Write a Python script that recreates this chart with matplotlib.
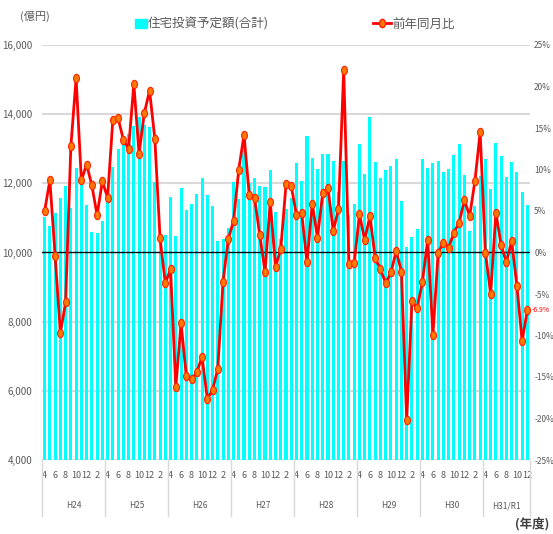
import matplotlib
matplotlib.use("Agg")
import matplotlib.pyplot as plt
import numpy as np
from matplotlib.lines import Line2D
from matplotlib.patches import Patch
from matplotlib.path import Path

plt.rcParams['font.family'] = ['Noto Sans CJK JP', 'DejaVu Sans']

# 住宅投資予定額(合計) 億円, H24.4 - R1.12
amounts = [
    11030, 10760, 11130, 11590, 11910, 11300, 12430, 12100, 11360, 10580, 10550, 10900,
    11600, 12460, 12980, 13200, 13430, 13650, 13930, 13700, 13630, 12030, 10300, 10500,
    11600, 10470, 11860, 11220, 11390, 11680, 12160, 11650, 11340, 10330, 10380, 10700,
    12030, 11540, 13300, 12000, 12140, 11930, 11880, 12380, 11160, 10380, 11250, 11570,
    12590, 12070, 13360, 12720, 12400, 12840, 12840, 12660, 11740, 12660, 11080, 11390,
    13130, 12260, 13930, 12610, 12140, 12380, 12490, 12690, 11480, 10150, 10440, 10670,
    12690, 12430, 12580, 12640, 12320, 12400, 12810, 13130, 12230, 10620, 11340, 12200,
    12690, 11830, 13180, 12780, 12170, 12610, 12320, 11740, 11370,
]
# 前年同月比 %
yoy = [
    5.0, 8.7, -0.4, -9.7, -6.0, 12.8, 21.0, 8.7, 10.6, 8.1, 4.5, 8.6,
    6.6, 16.0, 16.2, 13.6, 12.5, 20.3, 11.9, 16.8, 19.5, 13.7, 1.7, -3.7,
    -2.0, -16.2, -8.5, -14.9, -15.3, -14.4, -12.6, -17.6, -16.6, -14.0, -3.5, 1.6,
    3.8, 10.0, 14.2, 6.9, 6.6, 2.1, -2.3, 6.1, -1.7, 0.4, 8.2, 8.0,
    4.5, 4.7, -1.2, 5.9, 1.8, 7.2, 7.8, 2.6, 5.2, 22.0, -1.4, -1.3,
    4.6, 1.5, 4.4, -0.7, -2.0, -3.7, -2.4, 0.2, -2.3, -20.2, -5.9, -6.7,
    -3.5, 1.5, -9.9, 0.0, 1.2, 0.6, 2.4, 3.6, 6.3, 4.4, 8.6, 14.5,
    0.0, -5.0, 4.8, 0.9, -1.2, 1.4, -4.0, -10.7, -6.9,
]
month_labels = ['4', '6', '8', '10', '12', '2']
years = ['H24', 'H25', 'H26', 'H27', 'H28', 'H29', 'H30', 'H31/R1']

gray = '#595959'
n = len(amounts)
x = np.arange(n)

fig = plt.figure(figsize=(5.53, 5.34), dpi=100)
ax = fig.add_axes([42 / 553, 1 - 460 / 534, 488 / 553, 415 / 534])
ax2 = ax.twinx()

ax.set_zorder(1)
ax2.set_zorder(2)
ax.patch.set_visible(False)

ax.bar(x, amounts, width=0.58, color='#00FFFF', zorder=2)
for v in range(4000, 16001, 2000):
    if v == 10000:
        continue
    ax.axhline(v, color='#d9d9d9', lw=1.5, zorder=1)
ax.axhline(10000, color='black', lw=1.0, zorder=3)

ax.set_xlim(-0.5, n - 0.5)
ax.set_ylim(4000, 16000)
ax.set_yticks(range(4000, 16001, 2000))
ax.set_yticklabels([f'{v:,}' for v in range(4000, 16001, 2000)])
ax.tick_params(axis='y', length=0, pad=7, labelsize=7, labelcolor=gray)

# month ticks
pos, labs = [], []
for y in range(len(years)):
    for k, m in enumerate(month_labels):
        i = y * 12 + k * 2
        if i < n:
            pos.append(i)
            labs.append(m)
ax.set_xticks(pos)
ax.set_xticklabels(labs)
ax.tick_params(axis='x', length=0, pad=8, labelsize=6.5, labelcolor=gray)

trans = ax.get_xaxis_transform()
for y, name in enumerate(years):
    start = y * 12 - 0.5
    end = min(start + 12, n - 0.5)
    ax.plot([start, start], [0, -0.135], transform=trans, color='#d9d9d9',
            lw=1, clip_on=False)
    ax.text((start + end) / 2, -0.11, name, transform=trans, ha='center',
            va='center', fontsize=6, color=gray)
ax.plot([n - 0.5, n - 0.5], [0, -0.135], transform=trans, color='#d9d9d9',
        lw=1, clip_on=False)

# ellipse marker
t = np.linspace(0, 2 * np.pi, 30)
ell = Path(np.column_stack([0.7 * np.cos(t), np.sin(t)]), closed=True)

ax2.plot(x, yoy, color='#ff0000', lw=2, marker=ell, markersize=6,
         mfc='#ff7a00', mec='#ff2000', mew=0.8)
ax2.set_ylim(-25, 25)
ax2.set_yticks(range(-25, 26, 5))
ax2.set_yticklabels([f'{v}%' for v in range(-25, 26, 5)])
ax2.tick_params(axis='y', length=0, pad=3, labelsize=6, labelcolor=gray)
ax2.text(n - 0.1, yoy[-1], f'{yoy[-1]}%', color='#ff0000', fontsize=5,
         va='center', ha='left')

for a in (ax, ax2):
    for s in a.spines.values():
        s.set_visible(False)

fig.text(20 / 553, 1 - 16 / 534, '(億円)', fontsize=8, color=gray,
         ha='left', va='center')
fig.text(549 / 553, 1 - 524 / 534, '(年度)', fontsize=9, color='#404040',
         ha='right', va='center', fontweight='bold')

h1 = Patch(color='#00FFFF')
h2 = Line2D([0], [0], color='#ff0000', lw=2, marker=ell, markersize=6,
            mfc='#ff7a00', mec='#ff2000')
fig.legend([h1], ['住宅投資予定額(合計)'], loc='center left',
           bbox_to_anchor=(124 / 553, 1 - 24 / 534), frameon=False,
           fontsize=9, handlelength=0.9, handletextpad=0.1,
           labelcolor=gray)
fig.legend([h2], ['前年同月比'], loc='center left',
           bbox_to_anchor=(362 / 553, 1 - 24 / 534), frameon=False,
           fontsize=9, handlelength=1.4, handletextpad=0.1,
           labelcolor=gray)

fig.savefig('out.png', dpi=100)
